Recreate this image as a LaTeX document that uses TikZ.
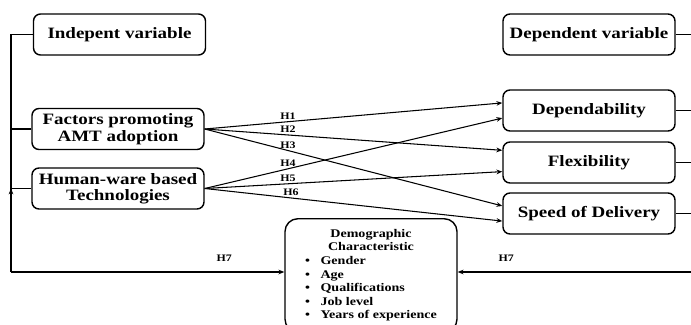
\documentclass[tikz,border=0pt]{standalone}
\usepackage{fontspec}
\setmainfont[FakeStretch=1.2]{Liberation Serif}
\usetikzlibrary{arrows.meta}

\begin{document}
\begin{tikzpicture}[x=0.03cm, y=-0.03cm,
    varbox/.style={draw, line width=1.2pt, rounded corners=6pt, minimum width=5.16cm,
        minimum height=1.23cm, align=center, inner sep=2pt,
        font=\fontsize{13.5}{14}\selectfont\bfseries},
    link/.style={line width=0.9pt},
    hyp/.style={link, -{Stealth[length=5pt, width=4pt]}},
    hlabel/.style={font=\fontsize{8.5}{9}\selectfont\bfseries, inner sep=1.5pt}]
    \useasboundingbox (0,0) rectangle (691,324);
    \clip (0,0) rectangle (691,324);

    % Independent variables
    \node[varbox] (indep) at (119.5, 34.5) {Indepent variable};
    \node[varbox] (factors) at (118, 129) {Factors promoting\\AMT adoption};
    \node[varbox] (human) at (118, 188.5) {Human-ware based\\Technologies};

    % Dependent variables
    \node[varbox] (dep) at (589, 34.5) {Dependent variable};
    \node[varbox] (dependab) at (589, 110.5) {Dependability};
    \node[varbox] (flex) at (589, 162.5) {Flexibility};
    \node[varbox] (speed) at (589, 213.5) {Speed of Delivery};

    % Moderator
    \node[varbox, rounded corners=11pt, anchor=north, minimum height=3.4cm,
        font=\fontsize{10}{11.6}\selectfont\bfseries] (demog) at (371, 218) {%
        \begin{tabular}{@{}c@{\hspace{9pt}}l@{}}
            \multicolumn{2}{c}{Demographic}\\
            \multicolumn{2}{c}{Characteristic}\\
            \textbullet & Gender\\
            \textbullet & Age\\
            \textbullet & Qualifications\\
            \textbullet & Job level\\
            \textbullet & Years of experience
        \end{tabular}};

    % Hypotheses H1 - H6
    \draw[hyp] (factors.east) -- (dependab.175) node[hlabel, pos=0.28, above] {H1};
    \draw[hyp] (factors.east) -- (flex.172) node[hlabel, pos=0.28, above] {H2};
    \draw[hyp] (factors.east) -- (speed.175) node[hlabel, pos=0.28, above] {H3};
    \draw[hyp] (human.east) -- (dependab.185) node[hlabel, pos=0.28, above] {H4};
    \draw[hyp] (human.east) -- (flex.186) node[hlabel, pos=0.28, above] {H5};
    \draw[hyp] (human.east) -- (speed.185) node[hlabel, pos=0.29, above] {H6};

    % Left frame
    \coordinate (lcorner) at (11, 272);
    \draw[link] (indep.west) -| (lcorner);
    \draw[link] (factors.west) -- (factors.west -| lcorner);
    \draw[link] (human.west) -- (human.west -| lcorner);
    \draw[hyp] (lcorner) -- (human.west -| lcorner);
    \draw[hyp] (lcorner) -- (demog.west |- lcorner) node[hlabel, pos=0.78, above=7pt] {H7};

    % Right frame
    \coordinate (rcorner) at (700, 272);
    \draw[link] (dep.east) -| (rcorner);
    \draw[link] (dependab.east) -- (dependab.east -| rcorner);
    \draw[link] (flex.east) -- (flex.east -| rcorner);
    \draw[link] (speed.east) -- (speed.east -| rcorner);
    \draw[hyp] (rcorner) -- (demog.east |- rcorner) node[hlabel, pos=0.8, above=7pt] {H7};
\end{tikzpicture}
\end{document}
